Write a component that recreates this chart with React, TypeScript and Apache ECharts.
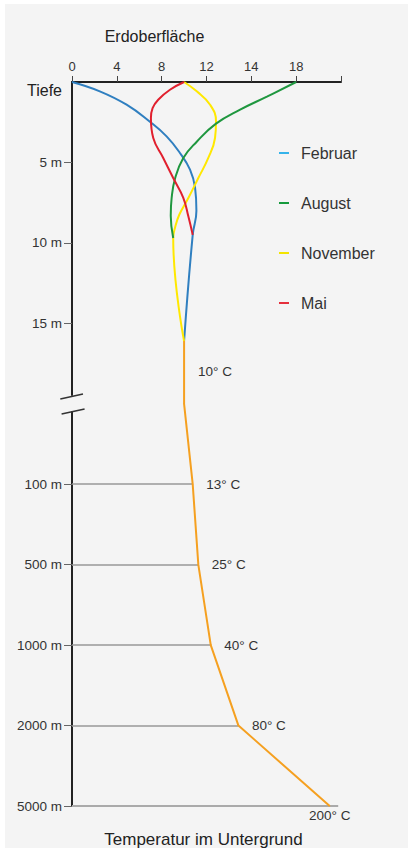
import React, { useEffect, useRef } from "react";
import * as echarts from "echarts";

// Top axis: temperature scale in the near-surface zone (tick every 4 axis units)
const topTickLabels = ["0", "4", "8", "12", "14", "18", ""];
// Depth axis: one label per 5 axis units; 0–20 are metres, below the break the rows are schematic
const depthTickLabels = ["Tiefe", "5 m", "10 m", "15 m", "", "100 m", "500 m", "1000 m", "2000 m", "5000 m"];
const depthTickValues = [5, 10, 15, 25, 30, 35, 40, 45];
const depthLabelValues = [0, 5, 10, 15, 25, 30, 35, 40, 45];
const breakAt = 20;

// Seasonal profiles: [temperature position, depth in m]
const februar = [
  [0, 0], [2.48, 0.58], [4.87, 1.41], [6.95, 2.47], [8.44, 3.38], [9.63, 4.41],
  [10.53, 5.45], [10.98, 6.57], [11.1, 8.0], [10.77, 9.5], [10, 16.1],
];
const august = [
  [20, 0], [17.39, 0.91], [15.0, 1.72], [12.85, 2.59], [11.13, 3.71], [9.93, 4.72],
  [9.19, 6.01], [8.89, 7.21], [8.81, 8.31], [9.03, 9.7],
];
const november = [
  [10, 0], [11.13, 0.58], [12.32, 1.41], [12.85, 2.45], [12.76, 3.48], [12.16, 4.72],
  [11.27, 5.97], [10.38, 7.21], [9.57, 8.25], [9.19, 9.06], [9.03, 9.7], [10, 16.1],
];
const mai = [
  [10, 0], [8.74, 0.48], [7.69, 1.1], [7.19, 1.62], [7.04, 2.24], [7.25, 3.48],
  [8.14, 4.72], [9.03, 5.97], [9.93, 7.2], [10.38, 8.35], [10.77, 9.5],
];

// Constant zone below the seasonal influence
const constantTemp = 10;
const constantFrom = 16.1;
const constantLabelDepth = 18;
// Deep rows (100 m … 5000 m) on the depth axis, their temperatures and schematic positions
const deepRows = [25, 30, 35, 40, 45];
const deepTemps = [13, 25, 40, 80, 200];
const deepTempPos = [10.77, 11.27, 12.38, 14.85, 22.99];
const baseLineEnd = 23.75;

const FONT = "'Liberation Sans', Arial, Helvetica, sans-serif";
const TEXT = "#333333";
const ORANGE = "#f5a020";

export default function App() {
  const ref = useRef<HTMLDivElement>(null);

  useEffect(() => {
    if (!ref.current) return;
    const chart = echarts.init(ref.current, null, { renderer: "svg" });

    const lineSeries = (name: string, data: number[][], color: string) => ({
      name,
      type: "line",
      data,
      smooth: 0.45,
      showSymbol: false,
      symbol: "none",
      lineStyle: { color, width: 2 },
      itemStyle: { color },
      z: 3,
    });

    const tempLabel = (i: number) => ({
      show: true,
      formatter: `${deepTemps[i]}° C`,
      position: i === deepRows.length - 1 ? "bottom" : "right",
      distance: i === deepRows.length - 1 ? 2 : 13,
      fontSize: 13.5,
      fontFamily: FONT,
      color: TEXT,
    });

    const deepData = [
      { value: [constantTemp, constantFrom], label: { show: false } },
      { value: [constantTemp, breakAt], label: { show: false } },
      ...deepRows.map((row, i) => ({
        value: [deepTempPos[i], row],
        label: tempLabel(i),
      })),
    ];

    const gridLines = deepRows.slice(0, deepRows.length - 1).map((row, i) => [
      { coord: [0, row] },
      { coord: [deepTempPos[i], row] },
    ]);

    chart.setOption({
      animation: false,
      backgroundColor: "#ffffff",
      textStyle: { fontFamily: FONT },
      grid: { left: 72, top: 82, right: 67, bottom: 42, containLabel: false },
      legend: {
        orient: "vertical",
        left: 274,
        top: 138,
        itemWidth: 10,
        itemHeight: 2,
        itemGap: 30,
        icon: "rect",
        selectedMode: false,
        textStyle: { fontSize: 16, color: TEXT, fontFamily: FONT, lineHeight: 20, padding: [0, 0, 0, 7] },
        data: [
          { name: "Februar", itemStyle: { color: "#35b3ea" } },
          { name: "August", itemStyle: { color: "#159a3c" } },
          { name: "November", itemStyle: { color: "#f3e400" } },
          { name: "Mai", itemStyle: { color: "#e5303c" } },
        ],
      },
      xAxis: [
        {
          type: "value",
          position: "top",
          min: 0,
          max: 24,
          interval: 4,
          axisLine: { show: true, lineStyle: { color: "#222", width: 2 } },
          axisTick: { show: true, length: 6, lineStyle: { color: "#444", width: 1 } },
          axisLabel: {
            margin: 9,
            fontSize: 13,
            color: TEXT,
            fontFamily: FONT,
            formatter: (v: number) => topTickLabels[Math.round(v / 4)] ?? "",
          },
          splitLine: { show: false },
        },
      ],
      yAxis: [
        {
          type: "value",
          inverse: true,
          min: 0,
          max: 45,
          interval: 5,
          axisLine: { show: true, onZero: false, lineStyle: { color: "#222", width: 2 } },
          axisTick: { show: true, length: 8, customValues: depthTickValues, lineStyle: { color: "#666", width: 1 } },
          axisLabel: {
            margin: 10,
            fontSize: 13.5,
            color: TEXT,
            fontFamily: FONT,
            customValues: depthLabelValues,
            formatter: (v: number) => {
              const t = depthTickLabels[Math.round(v / 5)] ?? "";
              return v === 0 ? `{head|${t}}` : t;
            },
            rich: {
              head: { fontSize: 16, color: "#222", fontFamily: FONT, padding: [16, 0, 0, 0] },
            },
          },
          splitLine: { show: false },
        },
      ],
      series: [
        {
          name: "Tiefe",
          type: "line",
          data: deepData,
          showSymbol: true,
          symbol: "circle",
          symbolSize: 1,
          lineStyle: { color: ORANGE, width: 2 },
          itemStyle: { color: ORANGE },
          labelLayout: { hideOverlap: false },
          z: 2,
          markLine: {
            silent: true,
            symbol: "none",
            label: { show: false },
            lineStyle: { color: "#999", width: 1.5, type: "solid" },
            data: [
              ...gridLines,
              [
                { coord: [0, deepRows[deepRows.length - 1]], lineStyle: { color: "#aaa", width: 2, type: "solid" } },
                { coord: [baseLineEnd, deepRows[deepRows.length - 1]] },
              ],
            ],
            z: 1,
          },
          markPoint: {
            symbol: "circle",
            symbolSize: 0,
            silent: true,
            data: [
              {
                coord: [constantTemp, constantLabelDepth],
                label: {
                  show: true,
                  formatter: `${constantTemp}° C`,
                  position: "right",
                  distance: 14,
                  fontSize: 13.5,
                  color: TEXT,
                  fontFamily: FONT,
                },
              },
            ],
          },
        },
        lineSeries("Februar", februar, "#2f7fc0"),
        lineSeries("November", november, "#ffe800"),
        lineSeries("August", august, "#1f973f"),
        lineSeries("Mai", mai, "#e1202e"),
      ],
    });

    // Panel, captions and the axis break, placed from the axis scales
    const [ax, by] = chart.convertToPixel({ gridIndex: 0 }, [0, breakAt]) as number[];
    chart.setOption({
      graphic: [
        {
          type: "rect",
          z: -100,
          silent: true,
          shape: { x: 5, y: 4, width: 403, height: 844 },
          style: { fill: "#f4f4f4" },
        },
        {
          type: "text",
          x: 154.5,
          y: 36,
          silent: true,
          style: { text: "Erdoberfläche", fontSize: 16, fontFamily: FONT, fill: "#222", align: "center", verticalAlign: "middle" },
        },
        {
          type: "text",
          x: 203.5,
          y: 839,
          silent: true,
          style: { text: "Temperatur im Untergrund", fontSize: 17, fontFamily: FONT, fill: "#222", align: "center", verticalAlign: "middle" },
        },
        {
          type: "rect",
          z: 50,
          silent: true,
          shape: { x: ax - 4, y: by - 8, width: 8, height: 15.5 },
          style: { fill: "#f4f4f4" },
        },
        {
          type: "line",
          z: 51,
          silent: true,
          shape: { x1: ax - 11.7, y1: by - 4.7, x2: ax + 11, y2: by - 9.7 },
          style: { stroke: "#333", lineWidth: 1.5 },
        },
        {
          type: "line",
          z: 51,
          silent: true,
          shape: { x1: ax - 10.4, y1: by + 10.3, x2: ax + 12.6, y2: by + 5.3 },
          style: { stroke: "#333", lineWidth: 1.5 },
        },
      ],
    });

    return () => chart.dispose();
  }, []);

  return (
    <div style={{ position: "absolute", left: 0, top: 0, width: 408, height: 848, background: "#fff" }}>
      <div ref={ref} style={{ width: 408, height: 848 }} />
    </div>
  );
}
